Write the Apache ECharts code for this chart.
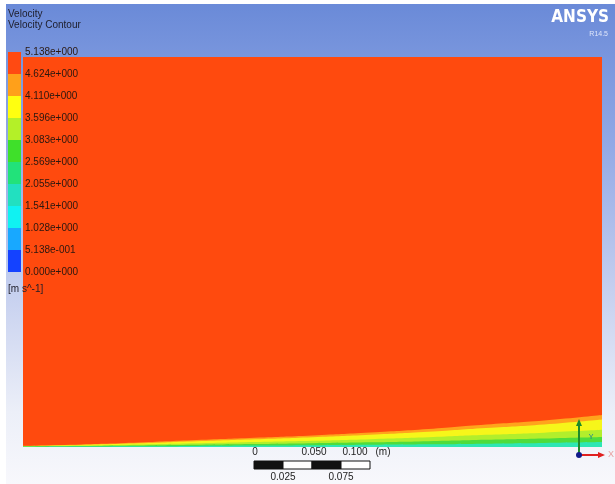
<!DOCTYPE html>
<html>
<head>
<meta charset="utf-8">
<script src="https://cdn.jsdelivr.net/npm/echarts@6/dist/echarts.min.js"></script>
<style>
  html, body { margin: 0; padding: 0; background: #ffffff; }
  #chart { width: 615px; height: 484px; }
</style>
</head>
<body>
<div id="chart"></div>
<script>
// Plate coordinate along the wall (m) and contour band edges above the wall (m)
const plateX       = [0, 0.05, 0.10, 0.15, 0.20, 0.25, 0.30, 0.35, 0.40, 0.45, 0.50];
const edgeOrange   = [0.0010, 0.0022, 0.0039, 0.0060, 0.0080, 0.0100, 0.0125, 0.0155, 0.0194, 0.0229, 0.0276];
const edgeYellow   = [0.0008, 0.0018, 0.0032, 0.0050, 0.0067, 0.0085, 0.0106, 0.0132, 0.0164, 0.0195, 0.0238];
const edgeLime     = [0.0006, 0.0012, 0.0021, 0.0032, 0.0043, 0.0054, 0.0068, 0.0084, 0.0105, 0.0124, 0.0148];
const edgeGreen    = [0.0004, 0.0008, 0.0013, 0.0019, 0.0025, 0.0032, 0.0040, 0.0050, 0.0062, 0.0073, 0.0086];
const edgeCyan     = [0.0002, 0.0004, 0.0006, 0.0009, 0.0012, 0.0015, 0.0019, 0.0023, 0.0029, 0.0035, 0.0043];

// Colour legend
const legendLabels = ['5.138e+000', '4.624e+000', '4.110e+000', '3.596e+000', '3.083e+000',
                      '2.569e+000', '2.055e+000', '1.541e+000', '1.028e+000', '5.138e-001', '0.000e+000'];
const legendColors = ['#ff4a12', '#ffa01a', '#ffff10', '#b4f028', '#3fe02a',
                      '#22e27a', '#22e0c0', '#10f2f2', '#18a8ff', '#1442ff'];

// Scale bar
const scaleTopLabels = ['0', '0.050', '0.100'];
const scaleBottomLabels = ['0.025', '0.075'];

const bandLayers = [
  { name: 'orange', data: edgeOrange, color: '#ffa41c' },
  { name: 'yellow', data: edgeYellow, color: '#f6f61a' },
  { name: 'lime',   data: edgeLime,   color: '#b2ee2c' },
  { name: 'green',  data: edgeGreen,  color: '#4edc3c' },
  { name: 'cyan',   data: edgeCyan,   color: '#2ee6b4' }
];

const chart = echarts.init(document.getElementById('chart'), null, { renderer: 'canvas' });

const FONT = 'Arial, "Liberation Sans", sans-serif';
const graphics = [];

// Window background
graphics.push({
  type: 'rect', z: -10, silent: true,
  shape: { x: 6, y: 4, width: 609, height: 480 },
  style: {
    fill: new echarts.graphic.LinearGradient(0, 0, 0, 1, [
      { offset: 0, color: '#6a8ad8' },
      { offset: 0.3, color: '#93aae6' },
      { offset: 0.6, color: '#c6d0ef' },
      { offset: 0.85, color: '#eceff8' },
      { offset: 1, color: '#f8f8fc' }
    ])
  }
});

// Titles
graphics.push({ type: 'text', z: 5, left: 8, top: 9,
  style: { text: 'Velocity', font: '10px ' + FONT, fill: '#1d1d2a' } });
graphics.push({ type: 'text', z: 5, left: 8, top: 20,
  style: { text: 'Velocity Contour', font: '10px ' + FONT, fill: '#1d1d2a' } });

// Legend colour bar
const barX = 8, barTop = 52, bandH = 22;
legendColors.forEach((c, i) => {
  graphics.push({ type: 'rect', z: 5, silent: true,
    shape: { x: barX, y: barTop + i * bandH, width: 13, height: bandH },
    style: { fill: c } });
});
legendLabels.forEach((t, i) => {
  graphics.push({ type: 'text', z: 6, silent: true,
    x: 25, y: barTop + i * bandH,
    style: { text: t, font: '10px ' + FONT, fill: '#2a1810', verticalAlign: 'middle' } });
});
graphics.push({ type: 'text', z: 6, x: 8, y: barTop + 10 * bandH + 17,
  style: { text: '[m s^-1]', font: '10px ' + FONT, fill: '#1d1d2a', verticalAlign: 'middle' } });

// Logo
graphics.push({ type: 'text', z: 6, x: 609, y: 18,
  style: { text: 'ANSYS', font: 'bold 17px "Liberation Sans Narrow", "DejaVu Sans Condensed", Arial', fill: '#ffffff', align: 'right', verticalAlign: 'middle' } });
graphics.push({ type: 'text', z: 6, x: 608, y: 34,
  style: { text: 'R14.5', font: '7px ' + FONT, fill: '#dfe6fa', align: 'right', verticalAlign: 'middle' } });

// Scale bar
const sbX = 254, sbY = 461, segW = 29, segH = 8;
for (let i = 0; i < 4; i++) {
  graphics.push({ type: 'rect', z: 5,
    shape: { x: sbX + i * segW, y: sbY, width: segW, height: segH },
    style: { fill: i % 2 === 0 ? '#111111' : '#ffffff', stroke: '#111111', lineWidth: 1 } });
}
const topLabelX = [255, 314, 355];
scaleTopLabels.forEach((t, i) => {
  graphics.push({ type: 'text', z: 6, x: topLabelX[i], y: 452,
    style: { text: t, font: '10px ' + FONT, fill: '#222222', align: 'center', verticalAlign: 'middle' } });
});
graphics.push({ type: 'text', z: 6, x: 383, y: 452,
  style: { text: '(m)', font: '10px ' + FONT, fill: '#222222', align: 'center', verticalAlign: 'middle' } });
scaleBottomLabels.forEach((t, i) => {
  graphics.push({ type: 'text', z: 6, x: sbX + (2 * i + 1) * segW, y: 477,
    style: { text: t, font: '10px ' + FONT, fill: '#222222', align: 'center', verticalAlign: 'middle' } });
});

// Axis triad
const ox = 579, oy = 455;
graphics.push({ type: 'line', z: 7, shape: { x1: ox, y1: oy, x2: ox, y2: 424 },
  style: { stroke: '#1f8a2a', lineWidth: 2 } });
graphics.push({ type: 'polygon', z: 7, shape: { points: [[ox - 3, 426], [ox + 3, 426], [ox, 419]] },
  style: { fill: '#1f8a2a' } });
graphics.push({ type: 'line', z: 7, shape: { x1: ox, y1: oy, x2: 600, y2: oy },
  style: { stroke: '#e02020', lineWidth: 2 } });
graphics.push({ type: 'polygon', z: 7, shape: { points: [[598, oy - 3], [598, oy + 3], [605, oy]] },
  style: { fill: '#e02020' } });
graphics.push({ type: 'circle', z: 8, shape: { cx: ox, cy: oy, r: 3 }, style: { fill: '#101a8a' } });
graphics.push({ type: 'text', z: 7, x: 611, y: oy,
  style: { text: 'X', font: '9px ' + FONT, fill: '#e8a0a0', align: 'center', verticalAlign: 'middle' } });
graphics.push({ type: 'text', z: 7, x: 591, y: 437,
  style: { text: 'Y', font: '7px ' + FONT, fill: '#1a7a9a', align: 'center', verticalAlign: 'middle' } });

chart.setOption({
  animation: false,
  backgroundColor: '#ffffff',
  grid: {
    left: 23, top: 57, width: 579, height: 390,
    show: true, backgroundColor: '#ff4a0e', borderWidth: 0
  },
  xAxis: { type: 'value', min: 0, max: 0.5, show: false },
  yAxis: { type: 'value', min: 0, max: 0.3368, show: false },
  graphic: graphics,
  series: bandLayers.map((b, k) => ({
    name: b.name,
    type: 'line',
    z: 2 + k,
    smooth: true,
    showSymbol: false,
    silent: true,
    lineStyle: { width: 0 },
    areaStyle: { color: b.color, opacity: 1 },
    data: plateX.map((x, i) => [x, b.data[i]])
  }))
});
</script>
</body>
</html>
